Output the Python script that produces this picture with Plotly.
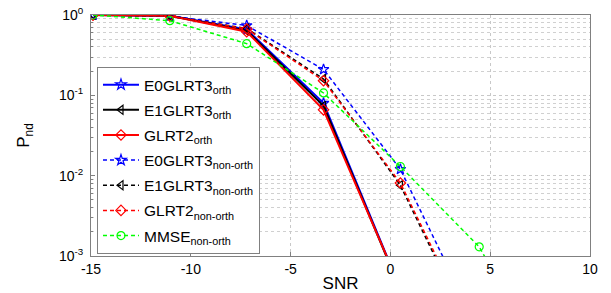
import plotly.graph_objects as go

snr = [-14.9, -11.05, -7.2, -3.35, 0.5, 4.35]
snr_mmse = [-14.9, -11.05, -7.2, -3.35, 0.5, 4.45, 8.3]

e0_orth = [1.0, 0.98, 0.66, 0.080, 3.9e-4, 1e-6]
e1_orth = [1.0, 0.98, 0.64, 0.074, 3.8e-4, 1e-6]
glrt2_orth = [1.0, 0.98, 0.62, 0.066, 4.0e-4, 1e-6]
e0_non = [1.0, 0.97, 0.74, 0.21, 0.012, 1.3e-4]
e1_non = [1.0, 0.97, 0.68, 0.16, 0.0076, 8e-5]
glrt2_non = [1.0, 0.97, 0.67, 0.152, 0.0081, 9e-5]
mmse_non = [1.0, 0.85, 0.44, 0.107, 0.013, 0.0013, 2.6e-5]

series = [
    ("E0GLRT3<sub>orth</sub>", snr, e0_orth, "#0000ff", "solid", "star-open", 2),
    ("E1GLRT3<sub>orth</sub>", snr, e1_orth, "#000000", "solid", "triangle-left-open", 2),
    ("GLRT2<sub>orth</sub>", snr, glrt2_orth, "#ff0000", "solid", "diamond-open", 2),
    ("E0GLRT3<sub>non-orth</sub>", snr, e0_non, "#0000ff", "dash", "star-open", 1.5),
    ("E1GLRT3<sub>non-orth</sub>", snr, e1_non, "#000000", "dash", "triangle-left-open", 1.5),
    ("GLRT2<sub>non-orth</sub>", snr, glrt2_non, "#ff0000", "dash", "diamond-open", 1.5),
    ("MMSE<sub>non-orth</sub>", snr_mmse, mmse_non, "#00ff00", "dash", "circle-open", 1.5),
]

fig = go.Figure()
for i, (name, x, y, c, dash, sym, w) in enumerate(series):
    fig.add_trace(go.Scatter(
        x=x, y=y, name=name, mode="lines+markers", legendgroup=f"g{i}",
        line=dict(color=c, width=w, dash="4px,3px" if dash == "dash" else "solid"),
        marker=dict(symbol=sym, size=8, color=c, line=dict(color=c, width=1.2)),
    ))

FAM = "Liberation Sans, Arial, sans-serif"
font = dict(family=FAM, size=14, color="black")

fig.update_layout(
    width=611, height=293,
    margin=dict(l=91, r=21, t=15, b=37),
    paper_bgcolor="white", plot_bgcolor="white",
    font=font,
    showlegend=True,
    legend=dict(
        x=0.012, y=0.784, xanchor="left", yanchor="top",
        bgcolor="white", bordercolor="#808080", borderwidth=1,
        font=dict(family=FAM, size=15.5),
        tracegroupgap=2, itemwidth=36,
    ),
    xaxis=dict(
        range=[-15, 10], tickvals=[-15, -10, -5, 0, 5, 10],
        ticktext=["-15", "-10", "-5", "0", "5", "10"],
        showgrid=True, gridcolor="#c8c8c8", griddash="dot", gridwidth=1,
        showline=True, linecolor="#808080", mirror=True,
        ticks="inside", ticklen=4, tickcolor="#808080",
        zeroline=False, automargin=False,
        title=dict(text="SNR", standoff=2),
    ),
    yaxis=dict(
        type="log", range=[-3, 0],
        tickvals=[1e-3, 1e-2, 1e-1, 1],
        ticktext=["10<sup>-3</sup>", "10<sup>-2</sup>", "10<sup>-1</sup>", "10<sup>0</sup>"],
        showgrid=True, gridcolor="#c8c8c8", griddash="dot", gridwidth=1,
        showline=True, linecolor="#808080", mirror=True,
        ticks="inside", ticklen=4, tickcolor="#808080",
        ticklabelstandoff=4,
        minor=dict(
            tickvals=[m * 10 ** e for e in (-3, -2, -1) for m in range(2, 10)],
            ticks="inside", ticklen=2, tickcolor="#808080",
            showgrid=True, gridcolor="#d0d0d0", griddash="dot", gridwidth=1,
        ),
        zeroline=False, automargin=False,
        title=dict(text="P<sub>nd</sub>", standoff=24),
    ),
)

fig.write_html("out.html", config={"displayModeBar": False},
               post_script="document.body.style.margin='0';")
